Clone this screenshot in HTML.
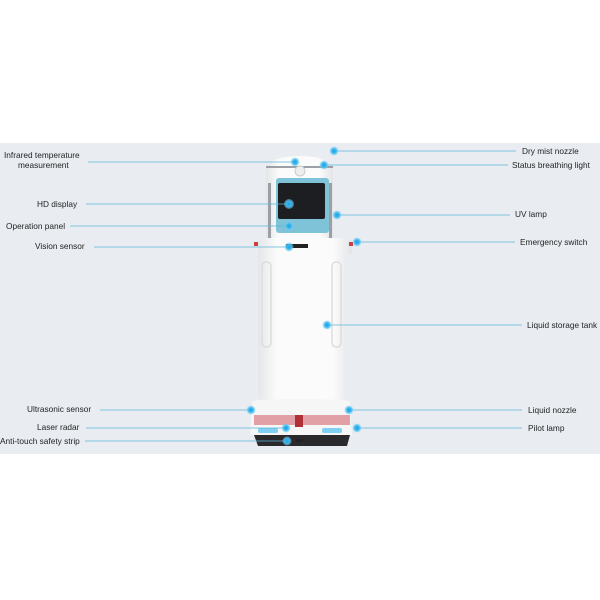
<!DOCTYPE html>
<html><head><meta charset="utf-8"><style>
html,body{margin:0;padding:0;background:#fff;width:600px;height:600px;overflow:hidden}
text{font-family:"Liberation Sans",sans-serif;font-size:8.3px;fill:#222}
</style></head><body>
<svg width="600" height="600" viewBox="0 0 600 600" xmlns="http://www.w3.org/2000/svg">
<defs>
<linearGradient id="bd" x1="0" x2="1"><stop offset="0" stop-color="#e4e6e9"/><stop offset="0.2" stop-color="#fbfbfb"/><stop offset="0.8" stop-color="#fbfbfb"/><stop offset="1" stop-color="#e2e4e7"/></linearGradient>
<radialGradient id="dot"><stop offset="0" stop-color="#1ea0e0"/><stop offset="0.5" stop-color="#3bb8ee"/><stop offset="1" stop-color="#7fd3f5" stop-opacity="0.4"/></radialGradient>
</defs>
<rect x="0" y="143" width="600" height="311" fill="#e9edf2"/>
<path d="M266 170 Q266 157 300 156 Q333 157 333 170 L333 238 L266 238 Z" fill="url(#bd)"/>
<rect x="266" y="166" width="67" height="2" fill="#9aa0a6"/>
<rect x="268" y="183" width="3" height="55" fill="#9aa0a6"/>
<rect x="329" y="183" width="3" height="55" fill="#9aa0a6"/>
<circle cx="300" cy="171" r="5" fill="#eee" stroke="#ccc"/>
<rect x="276" y="178" width="53" height="55" rx="3" fill="#7fc3d8"/>
<rect x="278" y="183" width="47" height="36" rx="2" fill="#1c1e22"/>
<path d="M258 242 Q258 238 270 238 L340 238 Q352 238 352 242 L352 254 L345 256 L345 395 Q345 405 300 406 Q258 405 258 395 L258 256 Z" fill="url(#bd)"/>
<rect x="254" y="242" width="4" height="4" fill="#c84040"/>
<rect x="349" y="242" width="4" height="4" fill="#c84040"/>
<rect x="286" y="244" width="22" height="4" fill="#222"/>
<rect x="262" y="262" width="9" height="85" rx="4" fill="none" stroke="#ddd" stroke-width="1.5"/>
<rect x="332" y="262" width="9" height="85" rx="4" fill="none" stroke="#ddd" stroke-width="1.5"/>
<path d="M252 402 Q252 399 300 399 Q350 399 350 402 L352 435 L250 435 Z" fill="#f6f6f6"/>
<rect x="254" y="415" width="96" height="10" fill="#e0a0a5"/>
<rect x="295" y="415" width="8" height="12" fill="#b03038"/>
<rect x="258" y="428" width="20" height="5" rx="2" fill="#7fd0f2"/>
<rect x="322" y="428" width="20" height="5" rx="2" fill="#7fd0f2"/>
<path d="M254 435 L350 435 L347 446 L258 446 Z" fill="#2a2a2c"/>
<rect x="296" y="439" width="7" height="3" fill="#222"/>
<g stroke="#5bb5d8" stroke-width="0.8">
<line x1="88" y1="162" x2="295" y2="162"/>
<line x1="86" y1="204" x2="289" y2="204"/>
<line x1="70" y1="226" x2="289" y2="226"/>
<line x1="94" y1="247" x2="289" y2="247"/>
<line x1="100" y1="410" x2="251" y2="410"/>
<line x1="86" y1="428" x2="286" y2="428"/>
<line x1="85" y1="441" x2="287" y2="441"/>
<line x1="334" y1="151" x2="516" y2="151"/>
<line x1="324" y1="165" x2="508" y2="165"/>
<line x1="337" y1="215" x2="510" y2="215"/>
<line x1="357" y1="242" x2="515" y2="242"/>
<line x1="327" y1="325" x2="522" y2="325"/>
<line x1="349" y1="410" x2="522" y2="410"/>
<line x1="357" y1="428" x2="522" y2="428"/>
</g>
<g fill="url(#dot)">
<circle cx="295" cy="162" r="4.5"/><circle cx="289" cy="204" r="5"/><circle cx="289" cy="226" r="4.5"/>
<circle cx="289" cy="247" r="4.5"/><circle cx="251" cy="410" r="4.5"/><circle cx="286" cy="428" r="4.5"/>
<circle cx="287" cy="441" r="4.5"/><circle cx="334" cy="151" r="4.5"/><circle cx="324" cy="165" r="4.5"/>
<circle cx="337" cy="215" r="4.5"/><circle cx="357" cy="242" r="4.5"/><circle cx="327" cy="325" r="4.5"/>
<circle cx="349" cy="410" r="4.5"/><circle cx="357" cy="428" r="4.5"/>
</g>
<text x="4" y="158">Infrared temperature</text>
<text x="18" y="168">measurement</text>
<text x="37" y="207">HD display</text>
<text x="6" y="229">Operation panel</text>
<text x="35" y="249">Vision sensor</text>
<text x="27" y="412">Ultrasonic sensor</text>
<text x="37" y="430">Laser radar</text>
<text x="0" y="444">Anti-touch safety strip</text>
<text x="522" y="154">Dry mist nozzle</text>
<text x="512" y="168">Status breathing light</text>
<text x="515" y="217">UV lamp</text>
<text x="520" y="245">Emergency switch</text>
<text x="527" y="328">Liquid storage tank</text>
<text x="528" y="413">Liquid nozzle</text>
<text x="528" y="431">Pilot lamp</text>
</svg>
</body></html>
